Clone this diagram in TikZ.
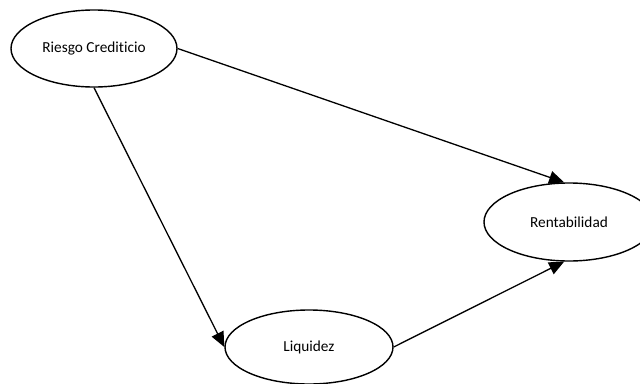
\documentclass[tikz,border=0pt]{standalone}
\usepackage{fontspec}
\setmainfont{Carlito}[Ligatures=NoCommon]
\usetikzlibrary{shapes.geometric,arrows.meta}
\begin{document}
\begin{tikzpicture}[x=1pt,y=-1pt,
  ell/.style={draw,ellipse,line width=1.4pt,inner sep=0pt,font=\fontsize{15.3}{18}\selectfont},
  conn/.style={line width=1.3pt,-{Triangle[length=15pt,width=13pt]}}]
\useasboundingbox (0,0) rectangle (640,383);
\node[ell,minimum width=166pt,minimum height=77pt] (r) at (94,48.5) {Riesgo Crediticio};
\node[ell,minimum width=170pt,minimum height=78pt] (p) at (569,222) {Rentabilidad};
\node[ell,minimum width=168pt,minimum height=74pt] (l) at (309,347) {Liquidez};
\draw[conn] (r.east) -- (p.97);
\draw[conn] (r.south) -- (l.west);
\draw[conn] (l.east) -- (p.263);
\end{tikzpicture}
\end{document}
